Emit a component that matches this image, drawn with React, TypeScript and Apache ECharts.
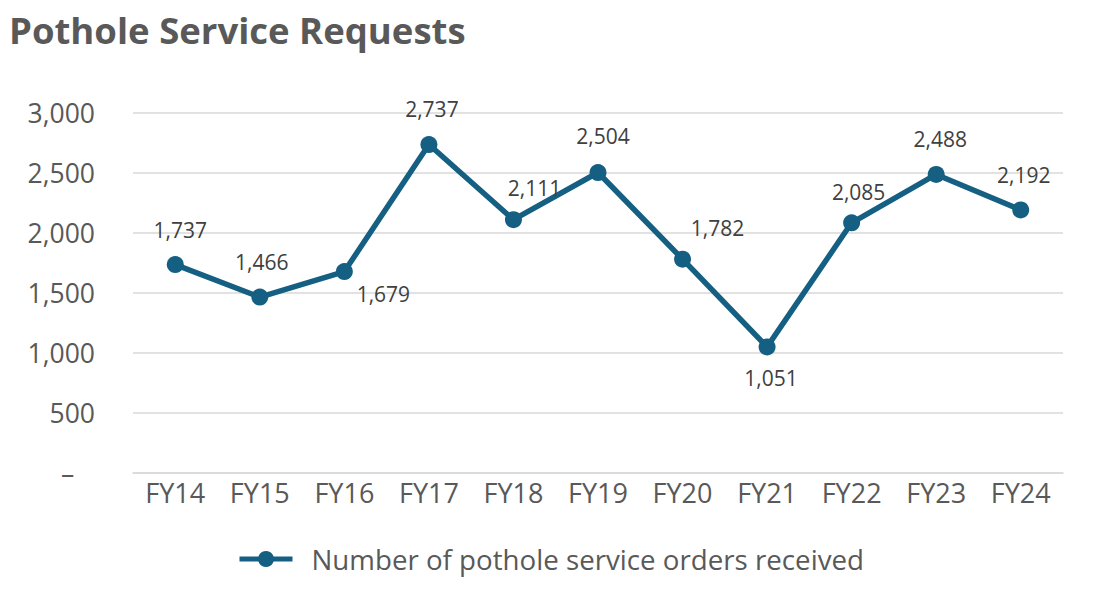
import React, { useEffect, useRef } from "react";
import * as echarts from "echarts";

const categories = ["FY14", "FY15", "FY16", "FY17", "FY18", "FY19", "FY20", "FY21", "FY22", "FY23", "FY24"];
const values = [1737, 1466, 1679, 2737, 2111, 2504, 1782, 1051, 2085, 2488, 2192];
const labelOffsets: [number, number][] = [
  [5, -35], [2, -35], [39, 22], [3, -36], [21, -32], [5, -37], [35, -31], [4, 31], [7, -31], [4, -35], [3, -35],
];
const seriesName = "Number of pothole service orders received";
const titleText = "Pothole Service Requests";

export default function App() {
  const ref = useRef<HTMLDivElement>(null);
  useEffect(() => {
    if (!ref.current) return;
    const chart = echarts.init(ref.current, undefined, { renderer: "svg" });
    const font = "'Open Sans', 'Noto Sans', sans-serif";
    chart.setOption({
      animation: false,
      title: {
        text: titleText,
        left: 1,
        top: 0,
        padding: 0,
        textStyle: { fontFamily: font, fontWeight: "bold", fontSize: 36.5, lineHeight: 44, color: "#595959" },
      },
      grid: { left: 125, right: 25, top: 105, bottom: 122, containLabel: false },
      legend: {
        left: 224,
        top: 532,
        itemWidth: 53,
        itemHeight: 20,
        lineStyle: { width: 5 },
        textStyle: { fontFamily: font, fontSize: 27.7, color: "#595959", padding: [0, 0, 0, 14] },
        data: [seriesName],
      },
      xAxis: {
        type: "category",
        data: categories,
        boundaryGap: true,
        axisLine: { lineStyle: { color: "#d9d9d9", width: 1.5 } },
        axisTick: { show: false },
        axisLabel: { fontFamily: font, fontSize: 27, color: "#595959", margin: 6 },
      },
      yAxis: {
        type: "value",
        min: 0,
        max: 3000,
        interval: 500,
        axisLine: { show: false },
        axisTick: { show: false },
        splitLine: { lineStyle: { color: "#d9d9d9", width: 1.5 } },
        axisLabel: {
          fontFamily: font,
          fontSize: 26.5,
          color: "#595959",
          margin: 38,
          formatter: (v: number) => (v === 0 ? "–   " : v.toLocaleString("en-US")),
        },
      },
      series: [
        {
          name: seriesName,
          type: "line",
          data: values.map((v, i) => ({
            value: v,
            label: { offset: labelOffsets[i] },
          })),
          symbol: "circle",
          symbolSize: 17,
          itemStyle: { color: "#156082" },
          lineStyle: { color: "#156082", width: 5.5 },
          label: {
            show: true,
            position: "inside",
            fontFamily: font,
            fontSize: 21,
            color: "#404040",
            formatter: (p: any) => Number(p.value).toLocaleString("en-US"),
          },
        },
      ],
    });
    return () => chart.dispose();
  }, []);
  return <div ref={ref} style={{ width: 1080, height: 587 }} />;
}
